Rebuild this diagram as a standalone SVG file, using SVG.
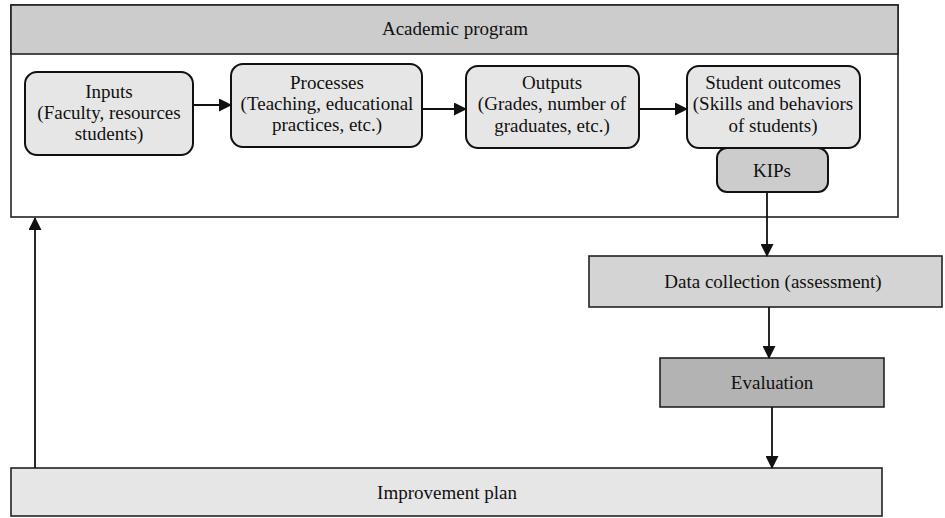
<svg xmlns="http://www.w3.org/2000/svg" width="945" height="518" viewBox="0 0 945 518">
<style>
text{font-family:"Liberation Serif","Times New Roman",serif;font-size:19px;fill:#111;text-anchor:middle}
.rb{stroke:#111;stroke-width:2}
.sq{stroke:#222;stroke-width:1.6}
.ln{stroke:#111;stroke-width:1.8;fill:none}
</style>
<defs>
<marker id="ah" markerWidth="13" markerHeight="13" refX="12" refY="6.5" orient="auto" markerUnits="userSpaceOnUse">
<path d="M0,0 L13,6.5 L0,13 Z" fill="#111"/>
</marker>
</defs>
<rect width="945" height="518" fill="#fff"/>
<g id="academic-program">
<rect class="sq" x="11" y="5" width="887" height="212" fill="#fff"/>
<rect class="sq" x="11" y="5" width="887" height="49" fill="#cccccc"/>
<text x="455" y="35">Academic program</text>
</g>
<g id="inputs">
<rect class="rb" x="25" y="72" width="168" height="83" rx="12" fill="#e6e6e6"/>
<text x="109" y="98">Inputs</text>
<text x="109" y="119">(Faculty, resources</text>
<text x="109" y="140">students)</text>
</g>
<g id="processes">
<rect class="rb" x="231" y="64" width="191" height="83" rx="12" fill="#e6e6e6"/>
<text x="327" y="89">Processes</text>
<text x="327" y="110">(Teaching, educational</text>
<text x="327" y="131">practices, etc.)</text>
</g>
<g id="outputs">
<rect class="rb" x="466" y="66" width="173" height="82" rx="12" fill="#e6e6e6"/>
<text x="552" y="89">Outputs</text>
<text x="552" y="110">(Grades, number of</text>
<text x="552" y="132">graduates, etc.)</text>
</g>
<g id="student-outcomes">
<rect class="rb" x="687" y="66" width="173" height="82" rx="12" fill="#e6e6e6"/>
<text x="773" y="89">Student outcomes</text>
<text x="773" y="110">(Skills and behaviors</text>
<text x="773" y="132">of students)</text>
</g>
<g id="kips">
<rect class="rb" x="717" y="148" width="111" height="44" rx="10" fill="#cccccc"/>
<text x="772" y="177">KIPs</text>
</g>
<g id="data-collection">
<rect class="sq" x="589" y="256" width="353" height="51" fill="#d4d4d4"/>
<text x="773" y="288">Data collection (assessment)</text>
</g>
<g id="evaluation">
<rect class="sq" x="660" y="358" width="224" height="49" fill="#b3b3b3"/>
<text x="772" y="389">Evaluation</text>
</g>
<g id="improvement-plan">
<rect class="sq" x="11" y="468" width="871" height="48" fill="#e6e6e6"/>
<text x="447" y="499">Improvement plan</text>
</g>
<g id="connectors">
<line class="ln" x1="193" y1="105" x2="231" y2="105" marker-end="url(#ah)"/>
<line class="ln" x1="422" y1="109" x2="466" y2="109" marker-end="url(#ah)"/>
<line class="ln" x1="639" y1="109" x2="687" y2="109" marker-end="url(#ah)"/>
<line class="ln" x1="767" y1="192" x2="767" y2="256" marker-end="url(#ah)"/>
<line class="ln" x1="769" y1="307" x2="769" y2="358" marker-end="url(#ah)"/>
<line class="ln" x1="772" y1="407" x2="772" y2="468" marker-end="url(#ah)"/>
<line class="ln" x1="35" y1="468" x2="35" y2="218" marker-end="url(#ah)"/>
</g>
</svg>
